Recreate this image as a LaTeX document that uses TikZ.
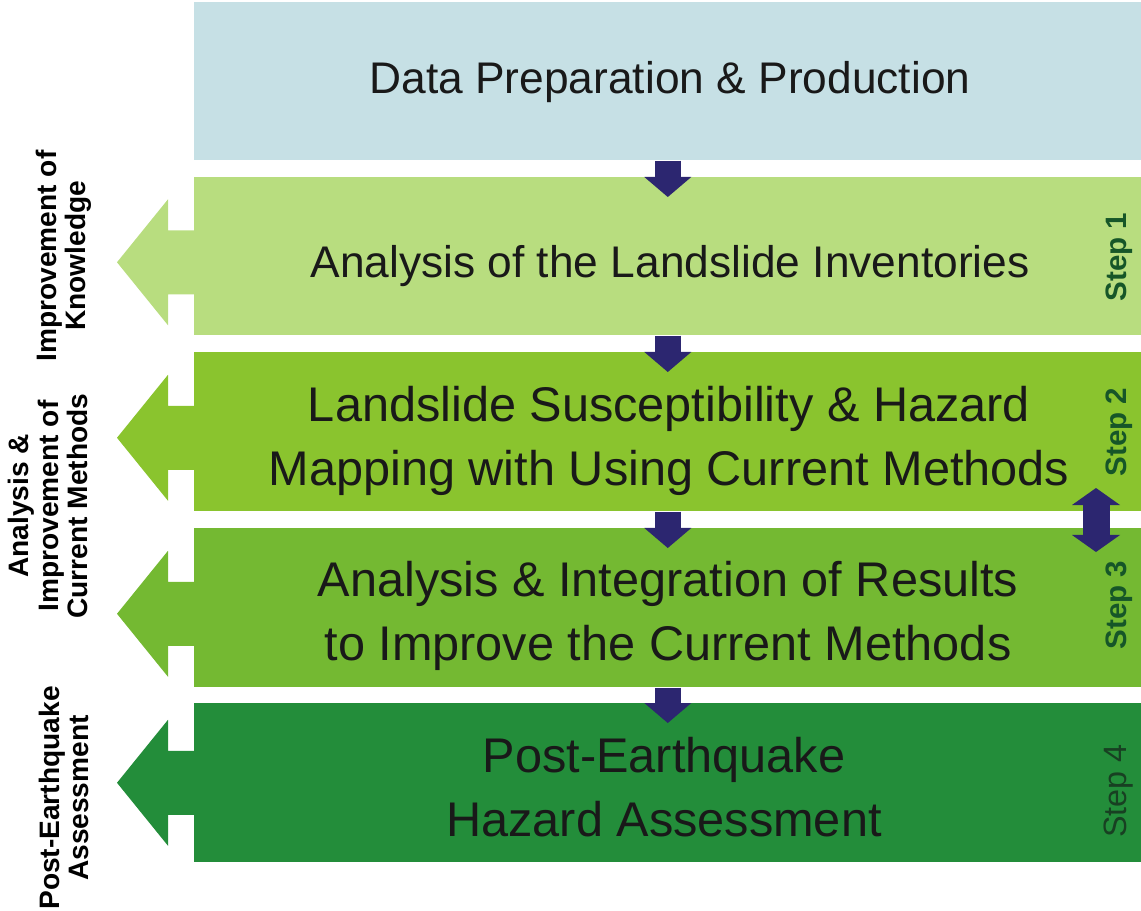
\documentclass[tikz,border=0pt]{standalone}
\usepackage{fontspec}
\setmainfont{Liberation Sans}
\usetikzlibrary{positioning}
\usetikzlibrary{calc}
\usetikzlibrary{arrows.meta}
\def\px{0.025cm}
\definecolor{topblue}{RGB}{198,224,229}
\definecolor{greenA}{RGB}{184,221,127}
\definecolor{greenB}{RGB}{138,196,46}
\definecolor{greenC}{RGB}{116,185,50}
\definecolor{greenD}{RGB}{35,141,58}
\definecolor{flowblue}{RGB}{44,38,112}
\definecolor{stepgreen}{RGB}{22,86,40}
\definecolor{stepdark}{RGB}{24,64,34}

\begin{document}
\begin{tikzpicture}[x=\px, y=-\px]
        \tikzstyle{box}=[rectangle, anchor=north west, inner sep=0pt, minimum width=947*\px, minimum height=158*\px]
        \tikzstyle{main}=[align=center, text=black!90, font=\fontsize{31.5}{45.5}\selectfont]
        \tikzstyle{big}=[main, font=\fontsize{34.6}{45.5}\selectfont]
        \tikzstyle{side}=[rotate=90, align=center, font=\bfseries\fontsize{20}{20.8}\selectfont]
        \tikzstyle{steplabel}=[rotate=90, text=stepgreen, font=\bfseries\fontsize{21}{22}\selectfont]
        \tikzstyle{flow}=[draw=flowblue, line width=0.65cm, -{Triangle[width=1.175cm, length=0.5cm, line width=0pt]}]
        \tikzstyle{both}=[draw=flowblue, line width=0.675cm, {Triangle[width=1.2cm, length=0.425cm, line width=0pt]}-{Triangle[width=1.2cm, length=0.425cm, line width=0pt]}]

        \useasboundingbox (0,0) rectangle (1141,911);

        % Draw the boxes
        \node[box, fill=topblue] (B-0) at (194,2) {};
        \node[box, fill=greenA] (B-1) at (194,177) {};
        \node[box, fill=greenB, minimum height=159*\px] (B-2) at (194,352) {};
        \node[box, fill=greenC, minimum height=159*\px] (B-3) at (194,528) {};
        \node[box, fill=greenD, minimum height=159*\px] (B-4) at (194,703) {};

        % Arrows pointing out to the left
        \foreach \name/\col/\dy in {1/greenA/6, 2/greenB/6, 3/greenC/6, 4/greenD/0}
            \fill[\col] ($(B-\name.west)+(1,\dy-32)$) -- ++(-27,0) -- ++(0,-31) -- ++(-51,63)
                -- ++(51,63) -- ++(0,-31) -- ++(27,0) -- cycle;

        % Box texts
        \node[main] (T-0) at (670,82) {Data Preparation \& Production};
        \node[main] (T-1) at (670,266) {Analysis of the Landslide Inventories};
        \node[big] (T-2) at (669,441) {Landslide Susceptibility \& Hazard\\Mapping with Using Current Methods};
        \node[big] (T-3) at (668,616) {Analysis \& Integration of Results\\to Improve the Current Methods};
        \node[big] (T-4) at (664,787) {Post-Earthquake\\Hazard Assessment};

        % Connect every box with the next one
        \foreach \a/\b in {0/1, 1/2, 2/3, 3/4}
            \draw[flow] (B-\a.south) -- ($(B-\b.north)+(0,20)$);

        \coordinate (D-top) at (1096,488);
        \coordinate (D-bot) at (1096,552);
        \draw[both] (D-top) -- (D-bot);

        % Annotate the left side
        \node[side] (S-1) at (64,256) {Improvement of\\Knowledge};
        \node[side] (S-2) at (48,506) {Analysis \&\\Improvement of\\Current Methods};
        \node[side] (S-3) at (64,798) {Post-Earthquake\\Assessment};

        % Annotate the steps
        \node[steplabel] (P-1) at (1119,257) {Step 1};
        \node[steplabel] (P-2) at (1119,432) {Step 2};
        \node[steplabel] (P-3) at (1119,605) {Step 3};
        \node[steplabel, text=stepdark, font=\fontsize{23}{24}\selectfont] (P-4) at (1119,791) {Step 4};

\end{tikzpicture}
\end{document}
